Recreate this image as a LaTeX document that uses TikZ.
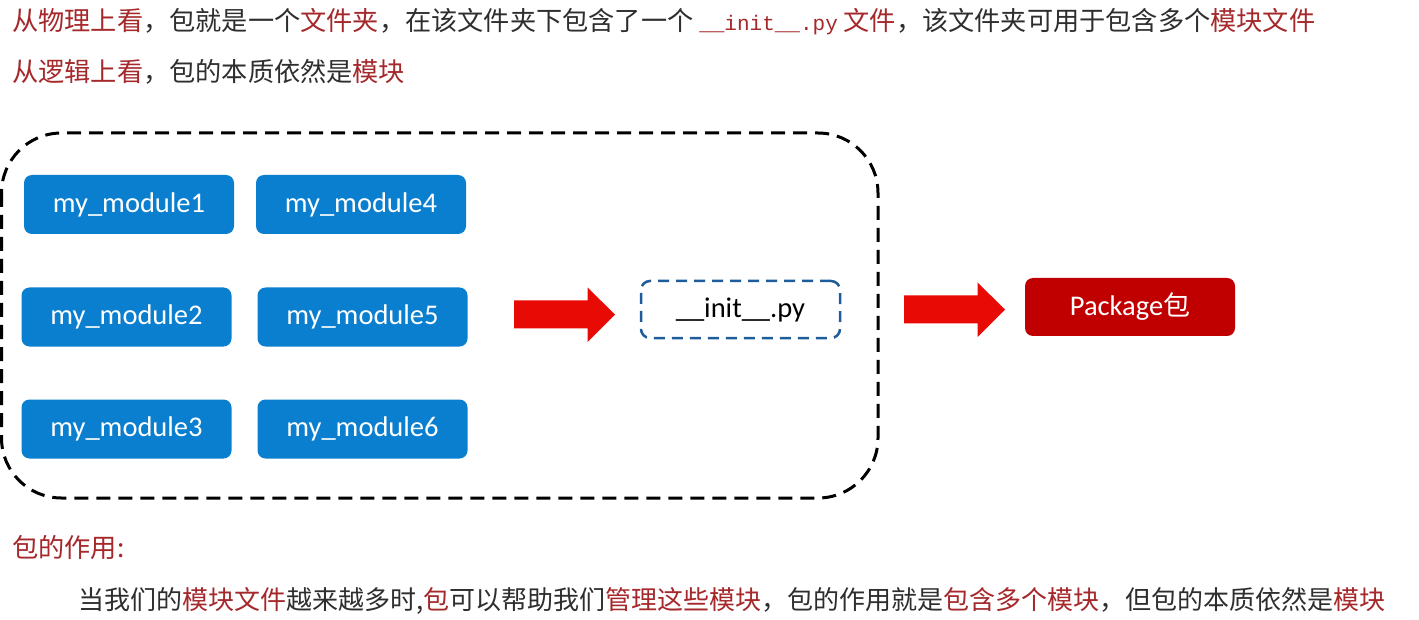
\documentclass[tikz,border=0pt]{standalone}
\usepackage{fontspec}
\setmainfont{Noto Sans CJK SC}
\newfontfamily\cjk{Noto Sans CJK SC}
\newfontfamily\calfont{Carlito}
\newfontfamily\mymono{Liberation Mono}
\definecolor{modblue}{HTML}{0B7FCF}
\definecolor{initblue}{HTML}{1F5C99}
\definecolor{arrred}{HTML}{E80A05}
\definecolor{pkgred}{HTML}{C00000}
\definecolor{txtred}{HTML}{A5282B}
\definecolor{txtgray}{HTML}{2E2E2E}
\newcommand{\rd}[1]{\textcolor{txtred}{#1}}
\tikzset{
  modbox/.style={fill=modblue, rounded corners=8pt, minimum width=210pt, minimum height=59pt,
    text=white, font=\calfont\fontsize{28.5}{28.5}\selectfont, inner sep=0pt},
  initbox/.style={draw=initblue, line width=2.5pt, dash pattern=on 11pt off 7pt, rounded corners=9pt,
    minimum width=199pt, minimum height=57pt, font=\calfont\fontsize{28.5}{28.5}\selectfont, text=black, inner sep=0pt},
  pkgbox/.style={fill=pkgred, rounded corners=8pt, minimum width=210pt, minimum height=58pt,
    text=white, font=\calfont\fontsize{28.5}{28.5}\selectfont, inner sep=0pt},
  bigarrow/.style={fill=arrred, draw=none},
  line1/.style={anchor=base west, inner sep=0pt, text=txtgray, font=\cjk\fontsize{26.2}{26.2}\selectfont},
}
\begin{document}
\begin{tikzpicture}[x=1pt,y=-1pt]
\useasboundingbox[fill=white] (0,0) rectangle (1419,620);
% header text
\node[line1] (t1) at (12,31) {\rd{从物理上看}，包就是一个\rd{文件夹}，在该文件夹下包含了一个 \rd{{\mymono\fontsize{21}{21}\selectfont \_\_init\_\_.py}} \rd{文件}，该文件夹可用于包含多个\rd{模块文件}};
\node[line1] (t2) at (12,82) {\rd{从逻辑上看}，包的本质依然是\rd{模块}};
% big dashed container
\draw[line width=3pt, dash pattern=on 14pt off 8pt, rounded corners=60pt] (1.5,133) rectangle (878,498);
% modules
\node[modbox] (m1) at (129,204.5) {my\_module1};
\node[modbox] (m4) at (361,204.5) {my\_module4};
\node[modbox] (m2) at (126.5,317) {my\_module2};
\node[modbox] (m5) at (362.5,317) {my\_module5};
\node[modbox] (m3) at (126.5,429) {my\_module3};
\node[modbox] (m6) at (362.5,429) {my\_module6};
% init
\node[initbox] (init) at (740.5,309.5) {\_\_init\_\_.py};
% package
\node[pkgbox] (pkg) at (1130,307) {Package{\cjk\fontsize{27}{27}\selectfont 包}};
% arrows
\coordinate (a1tail) at (514,314.5);
\coordinate (a1tip) at (615,314.5);
\fill[bigarrow] (a1tail) ++(0,-14) -- ++(73.5,0) -- ++(0,-13) -- (a1tip) -- ++(-27.3,27.3) -- ++(0,-13.3) -- ++(-73.5,0) -- cycle;
\coordinate (a2tail) at (904,309.5);
\coordinate (a2tip) at (1005,309.5);
\fill[bigarrow] (a2tail) ++(0,-14) -- ++(73.5,0) -- ++(0,-13) -- (a2tip) -- ++(-27.3,27.3) -- ++(0,-13.3) -- ++(-73.5,0) -- cycle;
% bottom text
\node[line1] (t3) at (12,557) {\rd{包的作用:}};
\node[line1, font=\cjk\fontsize{26}{26}\selectfont] (t4) at (78,609) {当我们的\rd{模块文件}越来越多时,\rd{包}可以帮助我们\rd{管理这些模块}，包的作用就是\rd{包含多个模块}，但包的本质依然是\rd{模块}};
\end{tikzpicture}
\end{document}
